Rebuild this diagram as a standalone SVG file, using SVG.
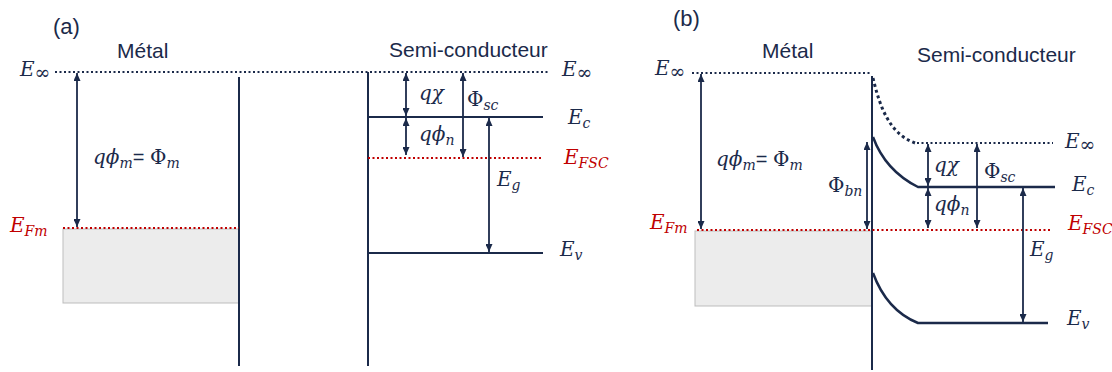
<svg xmlns="http://www.w3.org/2000/svg" width="1112" height="372" viewBox="0 0 1112 372">
<defs>
<marker id="ah" viewBox="0 0 8 7" refX="8" refY="3.5" markerWidth="8" markerHeight="7" markerUnits="userSpaceOnUse" orient="auto-start-reverse">
<path d="M0,0 L8,3.5 L0,7 z" fill="#1b2a4a"/>
</marker>
</defs>
<style>
.ln{stroke:#1b2a4a;stroke-width:2;fill:none}
.band{stroke:#1b2a4a;stroke-width:2.5;fill:none}
.dot{stroke:#1b2a4a;stroke-width:2;stroke-dasharray:2 2.5;fill:none}
.dotc{stroke:#1b2a4a;stroke-width:3;stroke-dasharray:3 3;fill:none}
.rdot{stroke:#c00000;stroke-width:2;stroke-dasharray:2 2.5;fill:none}
.arr{stroke:#1b2a4a;stroke-width:1.8;fill:none;marker-start:url(#ah);marker-end:url(#ah)}
.metal{fill:#ececec;stroke:#bdbdbd;stroke-width:1}
.lbl{font-family:"Liberation Sans",Arial,sans-serif;font-size:21px;fill:#1b2a4a}
.pl{font-family:"Liberation Sans",Arial,sans-serif;font-size:22px;fill:#1b2a4a}
.m{font-family:"DejaVu Serif","Liberation Serif",serif;font-size:20px;font-style:italic;fill:#1b2a4a}
.mr{font-family:"DejaVu Serif","Liberation Serif",serif;font-size:20px;font-style:italic;fill:#c00000}
.up{font-style:normal}
.sub{font-size:14px}
.inf{font-size:19px;font-style:normal}
</style>

<g id="panel-a">
<g id="a-metal">
<rect class="metal" x="63" y="229" width="176" height="74"/>
<line class="ln" x1="239" y1="77" x2="239" y2="366"/>
<text class="pl" x="53" y="34">(a)</text>
<text class="lbl" x="117" y="58">Métal</text>
</g>
<g id="a-semiconductor">
<line class="ln" x1="368" y1="72" x2="368" y2="366"/>
<line class="ln" x1="368" y1="117" x2="543" y2="117"/>
<line class="ln" x1="368" y1="253" x2="543" y2="253"/>
<text class="lbl" x="389" y="57">Semi-conducteur</text>
</g>
<g id="a-levels">
<line class="dot" x1="55" y1="72" x2="550" y2="72"/>
<line class="rdot" x1="63" y1="228" x2="239" y2="228"/>
<line class="rdot" x1="368" y1="158" x2="543" y2="158"/>
<text class="m" x="20" y="76">E<tspan class="inf" dy="3">∞</tspan></text>
<text class="mr" x="10" y="232">E<tspan class="sub" dy="4">Fm</tspan></text>
<text class="m" x="562" y="76">E<tspan class="inf" dy="3">∞</tspan></text>
<text class="m" x="568" y="124">E<tspan class="sub" dy="4">c</tspan></text>
<text class="mr" x="564" y="164">E<tspan class="sub" dy="4">FSC</tspan></text>
<text class="m" x="560" y="256">E<tspan class="sub" dy="4">v</tspan></text>
</g>
<g id="a-connectors">
<line class="arr" x1="77" y1="73" x2="77" y2="227"/>
<line class="arr" x1="406" y1="73" x2="406" y2="116"/>
<line class="arr" x1="406" y1="118" x2="406" y2="155"/>
<line class="arr" x1="463" y1="73" x2="463" y2="157"/>
<line class="arr" x1="489" y1="118" x2="489" y2="252"/>
</g>
<g id="a-labels">
<text class="m" x="93" y="164">qϕ<tspan class="sub" dy="4">m</tspan><tspan class="up" dy="-4" font-family="Liberation Sans">= </tspan><tspan class="up">Φ</tspan><tspan class="sub" dy="4">m</tspan></text>
<text class="m" x="419" y="100">qχ</text>
<text class="m" x="467" y="106"><tspan class="up">Φ</tspan><tspan class="sub" dy="4">sc</tspan></text>
<text class="m" x="419" y="141">qϕ<tspan class="sub" dy="4">n</tspan></text>
<text class="m" x="497" y="186">E<tspan class="sub" dy="4">g</tspan></text>
</g>
</g>

<g id="panel-b">
<g id="b-metal">
<rect class="metal" x="695" y="231" width="177" height="75"/>
<text class="pl" x="673" y="26">(b)</text>
<text class="lbl" x="762" y="58">Métal</text>
</g>
<g id="b-interface">
<line class="ln" x1="872" y1="76" x2="872" y2="370"/>
</g>
<g id="b-semiconductor">
<path class="band" d="M873,137 C880,156 892,174 918,187 L1055,187"/>
<path class="band" d="M873,273 C880,292 893,313 918,323 L1048,323"/>
<text class="lbl" x="917" y="62">Semi-conducteur</text>
</g>
<g id="b-levels">
<line class="dot" x1="692" y1="73" x2="871" y2="73"/>
<path class="dotc" d="M873,78 C880,108 890,134 915,143"/>
<line class="dot" x1="917" y1="143" x2="1053" y2="143"/>
<line class="rdot" x1="697" y1="230" x2="1052" y2="230"/>
<text class="m" x="655" y="75">E<tspan class="inf" dy="3">∞</tspan></text>
<text class="mr" x="650" y="229">E<tspan class="sub" dy="4">Fm</tspan></text>
<text class="m" x="1065" y="148">E<tspan class="inf" dy="3">∞</tspan></text>
<text class="m" x="1072" y="191">E<tspan class="sub" dy="4">c</tspan></text>
<text class="mr" x="1068" y="230">E<tspan class="sub" dy="4">FSC</tspan></text>
<text class="m" x="1067" y="325">E<tspan class="sub" dy="4">v</tspan></text>
</g>
<g id="b-connectors">
<line class="arr" x1="701" y1="74" x2="701" y2="229"/>
<line class="arr" x1="867" y1="142" x2="867" y2="229"/>
<line class="arr" x1="928" y1="144" x2="928" y2="186"/>
<line class="arr" x1="928" y1="188" x2="928" y2="228"/>
<line class="arr" x1="977" y1="144" x2="977" y2="228"/>
<line class="arr" x1="1023" y1="188" x2="1023" y2="322"/>
</g>
<g id="b-labels">
<text class="m" x="716" y="166">qϕ<tspan class="sub" dy="4">m</tspan><tspan class="up" dy="-4" font-family="Liberation Sans">= </tspan><tspan class="up">Φ</tspan><tspan class="sub" dy="4">m</tspan></text>
<text class="m" x="828" y="192"><tspan class="up">Φ</tspan><tspan class="sub" dy="4">bn</tspan></text>
<text class="m" x="934" y="172">qχ</text>
<text class="m" x="984" y="178"><tspan class="up">Φ</tspan><tspan class="sub" dy="4">sc</tspan></text>
<text class="m" x="934" y="211">qϕ<tspan class="sub" dy="4">n</tspan></text>
<text class="m" x="1030" y="256">E<tspan class="sub" dy="4">g</tspan></text>
</g>
</g>
</svg>
